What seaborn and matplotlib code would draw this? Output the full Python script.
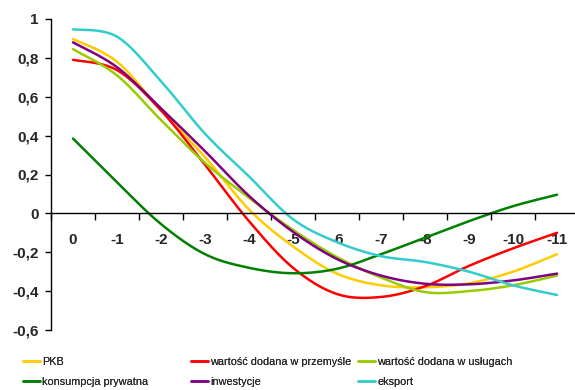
import numpy as np
import pandas as pd
import seaborn as sns
import matplotlib.pyplot as plt
from matplotlib.ticker import FixedLocator, FuncFormatter

# Dane
lags = ["0", "-1", "-2", "-3", "-4", "-5", "-6", "-7", "-8", "-9", "-10", "-11"]
pkb = [0.897, 0.78, 0.53, 0.29, 0.02, -0.17, -0.31, -0.37, -0.38, -0.36, -0.30, -0.21]
przemysl = [0.79, 0.737, 0.53, 0.25, -0.04, -0.28, -0.415, -0.43, -0.375, -0.27, -0.18, -0.10]
uslugi = [0.845, 0.71, 0.48, 0.26, 0.08, -0.085, -0.225, -0.33, -0.405, -0.40, -0.37, -0.32]
konsumpcja = [0.385, 0.16, -0.055, -0.21, -0.28, -0.308, -0.285, -0.21, -0.125, -0.04, 0.037, 0.096]
inwestycje = [0.88, 0.752, 0.54, 0.32, 0.09, -0.095, -0.235, -0.32, -0.362, -0.365, -0.345, -0.31]
eksport = [0.947, 0.909, 0.68, 0.41, 0.19, -0.03, -0.148, -0.22, -0.25, -0.30, -0.37, -0.42]

series = {
    "PKB": (pkb, "#FFCC00"),
    "wartość dodana w przemyśle": (przemysl, "#FF0000"),
    "wartość dodana w usługach": (uslugi, "#99CC00"),
    "konsumpcja prywatna": (konsumpcja, "#008000"),
    "inwestycje": (inwestycje, "#800080"),
    "eksport": (eksport, "#33CCCC"),
}


# wygładzanie jak w Excelu (krzywe Beziera)
def smooth(values, n=30):
    y = np.asarray(values, dtype=float)
    x = np.arange(len(y), dtype=float)
    xs, ys = [], []
    for i in range(len(y) - 1):
        i0 = max(i - 1, 0)
        i3 = min(i + 2, len(y) - 1)
        t = np.linspace(0, 1, n)
        for arr, out in ((x, xs), (y, ys)):
            p0, p1, p2, p3 = arr[i0], arr[i], arr[i + 1], arr[i3]
            c1 = p1 + (p2 - p0) / 6
            c2 = p2 - (p3 - p1) / 6
            out.extend((1 - t) ** 3 * p1 + 3 * (1 - t) ** 2 * t * c1
                       + 3 * (1 - t) * t ** 2 * c2 + t ** 3 * p2)
    return np.array(xs), np.array(ys)


sns.set_style("white")
plt.rcParams["font.family"] = ["Liberation Sans", "DejaVu Sans"]

fig = plt.figure(figsize=(5.75, 3.9), dpi=100)
ax = fig.add_axes([51 / 575, 60 / 390, 528 / 575, 311 / 390])

for name, (vals, color) in series.items():
    xs, ys = smooth(vals)
    df = pd.DataFrame({"x": xs, "y": ys})
    sns.lineplot(data=df, x="x", y="y", color=color, linewidth=1.8,
                 sort=False, estimator=None, label=name, ax=ax)

ax.set_xlim(-0.5, 11.5)
ax.set_ylim(-0.6, 1.0)
ax.set_xlabel("")
ax.set_ylabel("")

for s in ["top", "right"]:
    ax.spines[s].set_visible(False)
ax.spines["bottom"].set_position(("data", 0))
ax.spines["bottom"].set_color("black")
ax.spines["left"].set_color("black")
ax.spines["bottom"].set_linewidth(1.0)
ax.spines["left"].set_linewidth(1.0)

ax.set_xticks(range(len(lags)))
ax.set_xticklabels(lags, fontsize=11, fontweight="bold")
ax.xaxis.set_minor_locator(FixedLocator(np.arange(-0.5, 12, 1)))
ax.tick_params(axis="x", which="major", length=0, pad=14)
ax.tick_params(axis="x", which="minor", length=5, width=1, direction="out", color="black", bottom=True)

ax.set_yticks(np.arange(-0.6, 1.01, 0.2))
ax.yaxis.set_major_formatter(FuncFormatter(
    lambda v, p: "0" if abs(v) < 1e-9 else ("1" if abs(v - 1) < 1e-9 else f"{v:.1f}".replace(".", ","))))
ax.tick_params(axis="y", length=4, width=1, direction="out", color="black", left=True, pad=5)
for lab in ax.get_yticklabels():
    lab.set_fontsize(11)
    lab.set_fontweight("bold")

handles, labels = ax.get_legend_handles_labels()
ax.get_legend().remove()
hmap = dict(zip(labels, handles))
cols = [["PKB", "konsumpcja prywatna"],
        ["wartość dodana w przemyśle", "inwestycje"],
        ["wartość dodana w usługach", "eksport"]]
xpos = [23, 191, 358]
for names, x0 in zip(cols, xpos):
    leg = fig.legend([hmap[n] for n in names], names, loc="upper left",
                     bbox_to_anchor=(x0 / 575, 1 - 357 / 390), frameon=False,
                     fontsize=7.8, handlelength=1.6, handletextpad=0.2,
                     borderpad=0, borderaxespad=0, labelspacing=0.95)
    fig.add_artist(leg)

fig.savefig("out.png", dpi=100)
